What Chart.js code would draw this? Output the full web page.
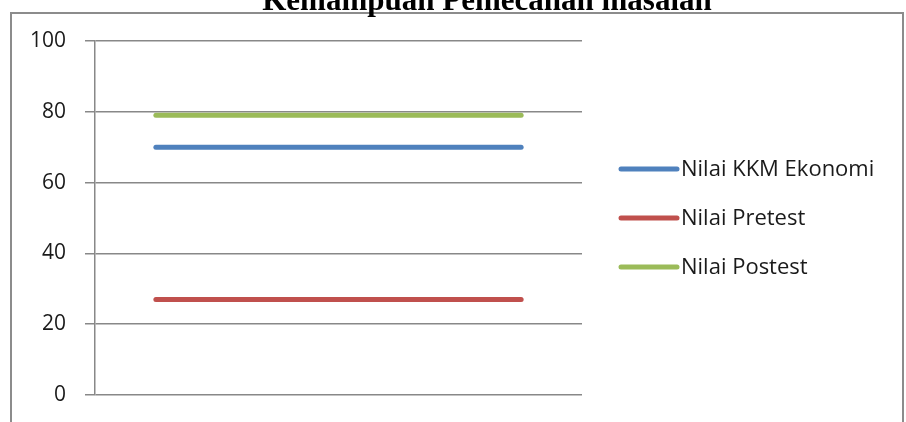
<!DOCTYPE html>
<html>
<head>
<meta charset="utf-8">
<script src="https://cdn.jsdelivr.net/npm/chart.js@4/dist/chart.umd.min.js"></script>
<style>
  html, body { margin: 0; padding: 0; background: #fff; }
  #wrap { width: 906px; height: 422px; position: relative; }
</style>
</head>
<body>
<div id="wrap"><canvas id="c" width="906" height="422"></canvas></div>
<script>
// Chart title and data
const chartTitle = 'Kemampuan Pemecahan masalah';
const categories = ['1', '2', '3', '4'];
const seriesNames = ['Nilai KKM Ekonomi', 'Nilai Pretest', 'Nilai Postest'];
const kkmValues = [70, 70, 70, 70];
const pretestValues = [27, 27, 27, 27];
const postestValues = [79, 79, 79, 79];
const seriesColors = ['#4f81bd', '#c0504d', '#9bbb59'];
const yTicks = [0, 20, 40, 60, 80, 100];

// Outer frame plus title, drawn behind the chart
const framePlugin = {
  id: 'frame',
  beforeDraw(chart) {
    const ctx = chart.ctx;
    ctx.save();
    ctx.strokeStyle = '#8c8c8c';
    ctx.lineWidth = 2;
    ctx.strokeRect(11, 13, 892, 430);
    ctx.fillStyle = '#000';
    ctx.font = 'bold 31px "Liberation Serif", "Times New Roman", serif';
    ctx.textAlign = 'center';
    ctx.textBaseline = 'alphabetic';
    ctx.fillText(chartTitle, 487, 10);
    ctx.restore();
  }
};

// Legend on the right: a thick line sample followed by the series name
const sideLegend = {
  id: 'sideLegend',
  afterDraw(chart) {
    const ctx = chart.ctx;
    const area = chart.chartArea;
    const x0 = 621, x1 = 677, tx = 681, gap = 49;
    const mid = (area.top + area.bottom) / 2;
    const n = chart.data.datasets.length;
    ctx.save();
    chart.data.datasets.forEach((ds, i) => {
      const y = mid + (i - (n - 1) / 2) * gap;
      ctx.strokeStyle = ds.borderColor;
      ctx.lineWidth = 5;
      ctx.lineCap = 'round';
      ctx.beginPath();
      ctx.moveTo(x0, y);
      ctx.lineTo(x1, y);
      ctx.stroke();
      ctx.fillStyle = '#1a1a1a';
      ctx.font = '22px "Open Sans", sans-serif';
      ctx.textAlign = 'left';
      ctx.textBaseline = 'middle';
      ctx.fillText(ds.label, tx, y + 1);
    });
    ctx.restore();
  }
};

const valueSets = [kkmValues, pretestValues, postestValues];

new Chart(document.getElementById('c'), {
  type: 'line',
  data: {
    labels: categories,
    datasets: seriesNames.map((name, i) => ({
      label: name,
      data: valueSets[i],
      borderColor: seriesColors[i],
      backgroundColor: seriesColors[i],
      borderWidth: 5,
      borderCapStyle: 'round',
      pointRadius: 0,
      pointHoverRadius: 0,
      tension: 0,
      fill: false
    }))
  },
  options: {
    responsive: false,
    animation: false,
    events: [],
    layout: { padding: { left: 0, right: 324, top: 41, bottom: 27 } },
    plugins: {
      legend: { display: false },
      title: { display: false },
      tooltip: { enabled: false }
    },
    scales: {
      x: {
        type: 'category',
        display: false,
        offset: true
      },
      y: {
        min: 0,
        max: 100,
        afterFit(scale) {
          scale.width = 95;
          scale.paddingTop = 0;
          scale.paddingBottom = 0;
        },
        afterBuildTicks(scale) { scale.ticks = yTicks.map(v => ({ value: v })); },
        ticks: {
          padding: 19,
          color: '#1a1a1a',
          font: { family: '"Open Sans", sans-serif', size: 21 }
        },
        grid: {
          color: '#888',
          lineWidth: 1.5,
          tickLength: 10,
          drawTicks: true
        },
        border: { display: true, color: '#888', width: 1.5 }
      }
    }
  },
  plugins: [framePlugin, sideLegend]
});
</script>
</body>
</html>
